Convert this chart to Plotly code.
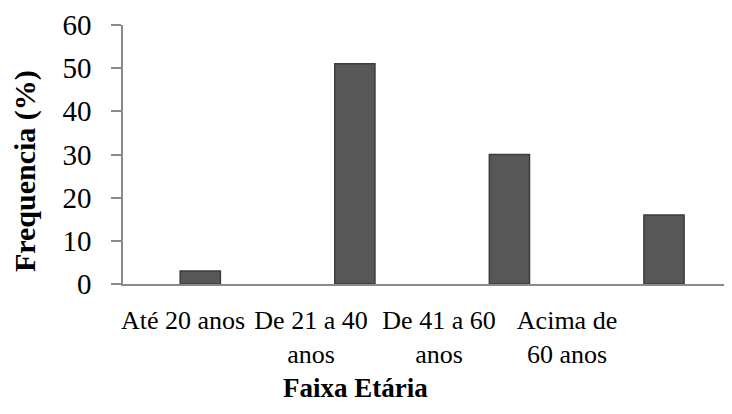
import plotly.graph_objects as go

categories = ["Até 20 anos", "De 21 a 40 anos", "De 41 a 60 anos", "Acima de 60 anos"]
tick_labels = ["Até 20 anos", "De 21 a 40<br>anos", "De 41 a 60<br>anos", "Acima de<br>60 anos"]
values = [3, 51, 30, 16]
y_ticks = [0, 10, 20, 30, 40, 50, 60]

FONT = "'Liberation Serif', 'Times New Roman', Times, serif"
AXIS_GREY = "#8a8a8a"

fig = go.Figure()
fig.add_trace(go.Bar(
    x=list(range(len(categories))), y=values,
    width=0.26,
    marker=dict(color="#575757", line=dict(color="#3c3c3c", width=1.5)),
    hovertext=categories,
    showlegend=False,
))
# invisible trace to carry the label axis
fig.add_trace(go.Scatter(x=list(range(len(categories))), y=[0]*len(categories),
                         xaxis="x2", mode="markers", marker=dict(opacity=0),
                         showlegend=False, hoverinfo="skip"))

# page body has an 8px default margin, so the figure is 724x406
fig.update_layout(
    width=724, height=406,
    margin=dict(l=115, r=0, t=17, b=130, autoexpand=False),
    paper_bgcolor="white", plot_bgcolor="white",
    font=dict(family=FONT, color="black", size=26),
    xaxis=dict(range=[-0.5, 3.44], showticklabels=False, ticks="",
               showline=True, linecolor=AXIS_GREY, linewidth=1.5,
               showgrid=False, zeroline=False, automargin=False),
    xaxis2=dict(overlaying="x", anchor="y", side="bottom",
                range=[-0.469, 4.289], tickmode="array",
                tickvals=list(range(len(categories))), ticktext=tick_labels,
                ticks="", showline=False, showgrid=False, zeroline=False,
                ticklabelstandoff=18, automargin=False,
                tickfont=dict(family=FONT, size=26, color="black")),
    yaxis=dict(range=[0, 60], tickmode="array", tickvals=y_ticks,
               ticks="outside", ticklen=10, tickcolor=AXIS_GREY, tickwidth=1.5,
               showline=True, linecolor=AXIS_GREY, linewidth=1.5,
               showgrid=False, zeroline=False, automargin=False,
               ticklabelstandoff=14,
               tickfont=dict(family=FONT, size=29, color="black")),
    annotations=[
        dict(text="<b>Frequencia (%)</b>", textangle=-90, xref="paper", yref="paper",
             x=0, y=0.436, xanchor="center", yanchor="middle", xshift=-98,
             showarrow=False, font=dict(family=FONT, size=30, color="black")),
        dict(text="<b>Faixa Etária</b>", xref="paper", yref="paper",
             x=(355 - 123) / 609, y=0, xanchor="center", yanchor="middle", yshift=-104,
             showarrow=False, font=dict(family=FONT, size=27, color="black")),
    ],
)

fig.write_html("out.html")
